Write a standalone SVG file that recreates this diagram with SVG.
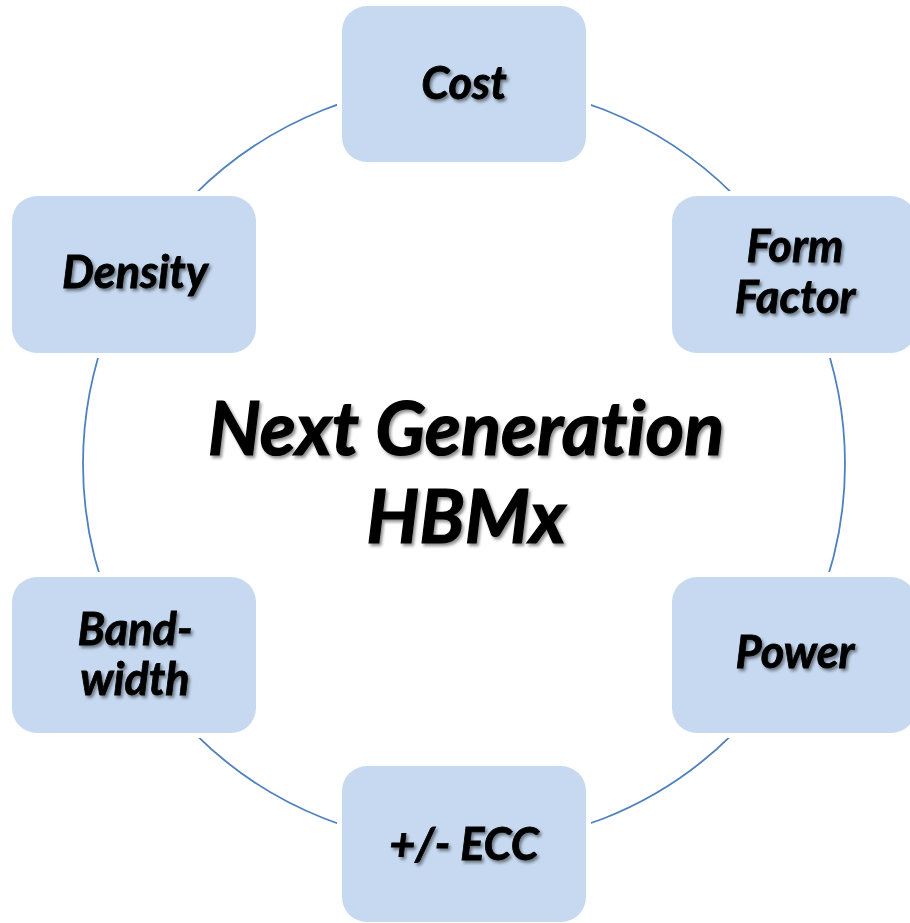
<svg xmlns="http://www.w3.org/2000/svg" width="910" height="923" viewBox="0 0 910 923">
<defs>
<filter id="sh" x="-20%" y="-20%" width="140%" height="140%">
<feDropShadow dx="2" dy="2.5" stdDeviation="1.5" flood-color="#000" flood-opacity="0.45"/>
</filter>
</defs>
<style>
.box{fill:#c6d9f0;stroke:#fff;stroke-width:10;paint-order:stroke}
.t{font-family:Lato,"Open Sans","Liberation Sans",sans-serif;font-weight:bold;font-style:italic;font-size:45px;fill:#000;stroke:#000;stroke-width:0.8;text-anchor:middle;font-variant-ligatures:none;filter:url(#sh)}
.big{font-size:74px;stroke-width:1.2}
.ring{fill:none;stroke:#4f81bd;stroke-width:1.8}
</style>
<rect width="910" height="923" fill="#fff"/>
<g id="connectors">
<circle class="ring" cx="464" cy="464" r="381"/>
</g>
<g id="cost"><rect class="box" x="342" y="6" width="244" height="156" rx="25"/><text class="t" x="464" y="99">Cost</text></g>
<g id="formfactor"><rect class="box" x="672" y="196" width="244" height="157" rx="25"/><text class="t" x="795" y="262">Form</text><text class="t" x="795" y="313">Factor</text></g>
<g id="power"><rect class="box" x="672" y="577" width="244" height="156" rx="25"/><text class="t" x="795" y="668">Power</text></g>
<g id="ecc"><rect class="box" x="342" y="766" width="244" height="156" rx="25"/><text class="t" x="464" y="860">+/- ECC</text></g>
<g id="bandwidth"><rect class="box" x="12" y="577" width="244" height="156" rx="25"/><text class="t" x="135" y="645">Band-</text><text class="t" x="135" y="695">width</text></g>
<g id="density"><rect class="box" x="12" y="196" width="244" height="157" rx="25"/><text class="t" x="135" y="288">Density</text></g>
<g id="center"><text class="t big" x="466" y="455">Next Generation</text><text class="t big" x="466" y="543">HBMx</text></g>
</svg>
